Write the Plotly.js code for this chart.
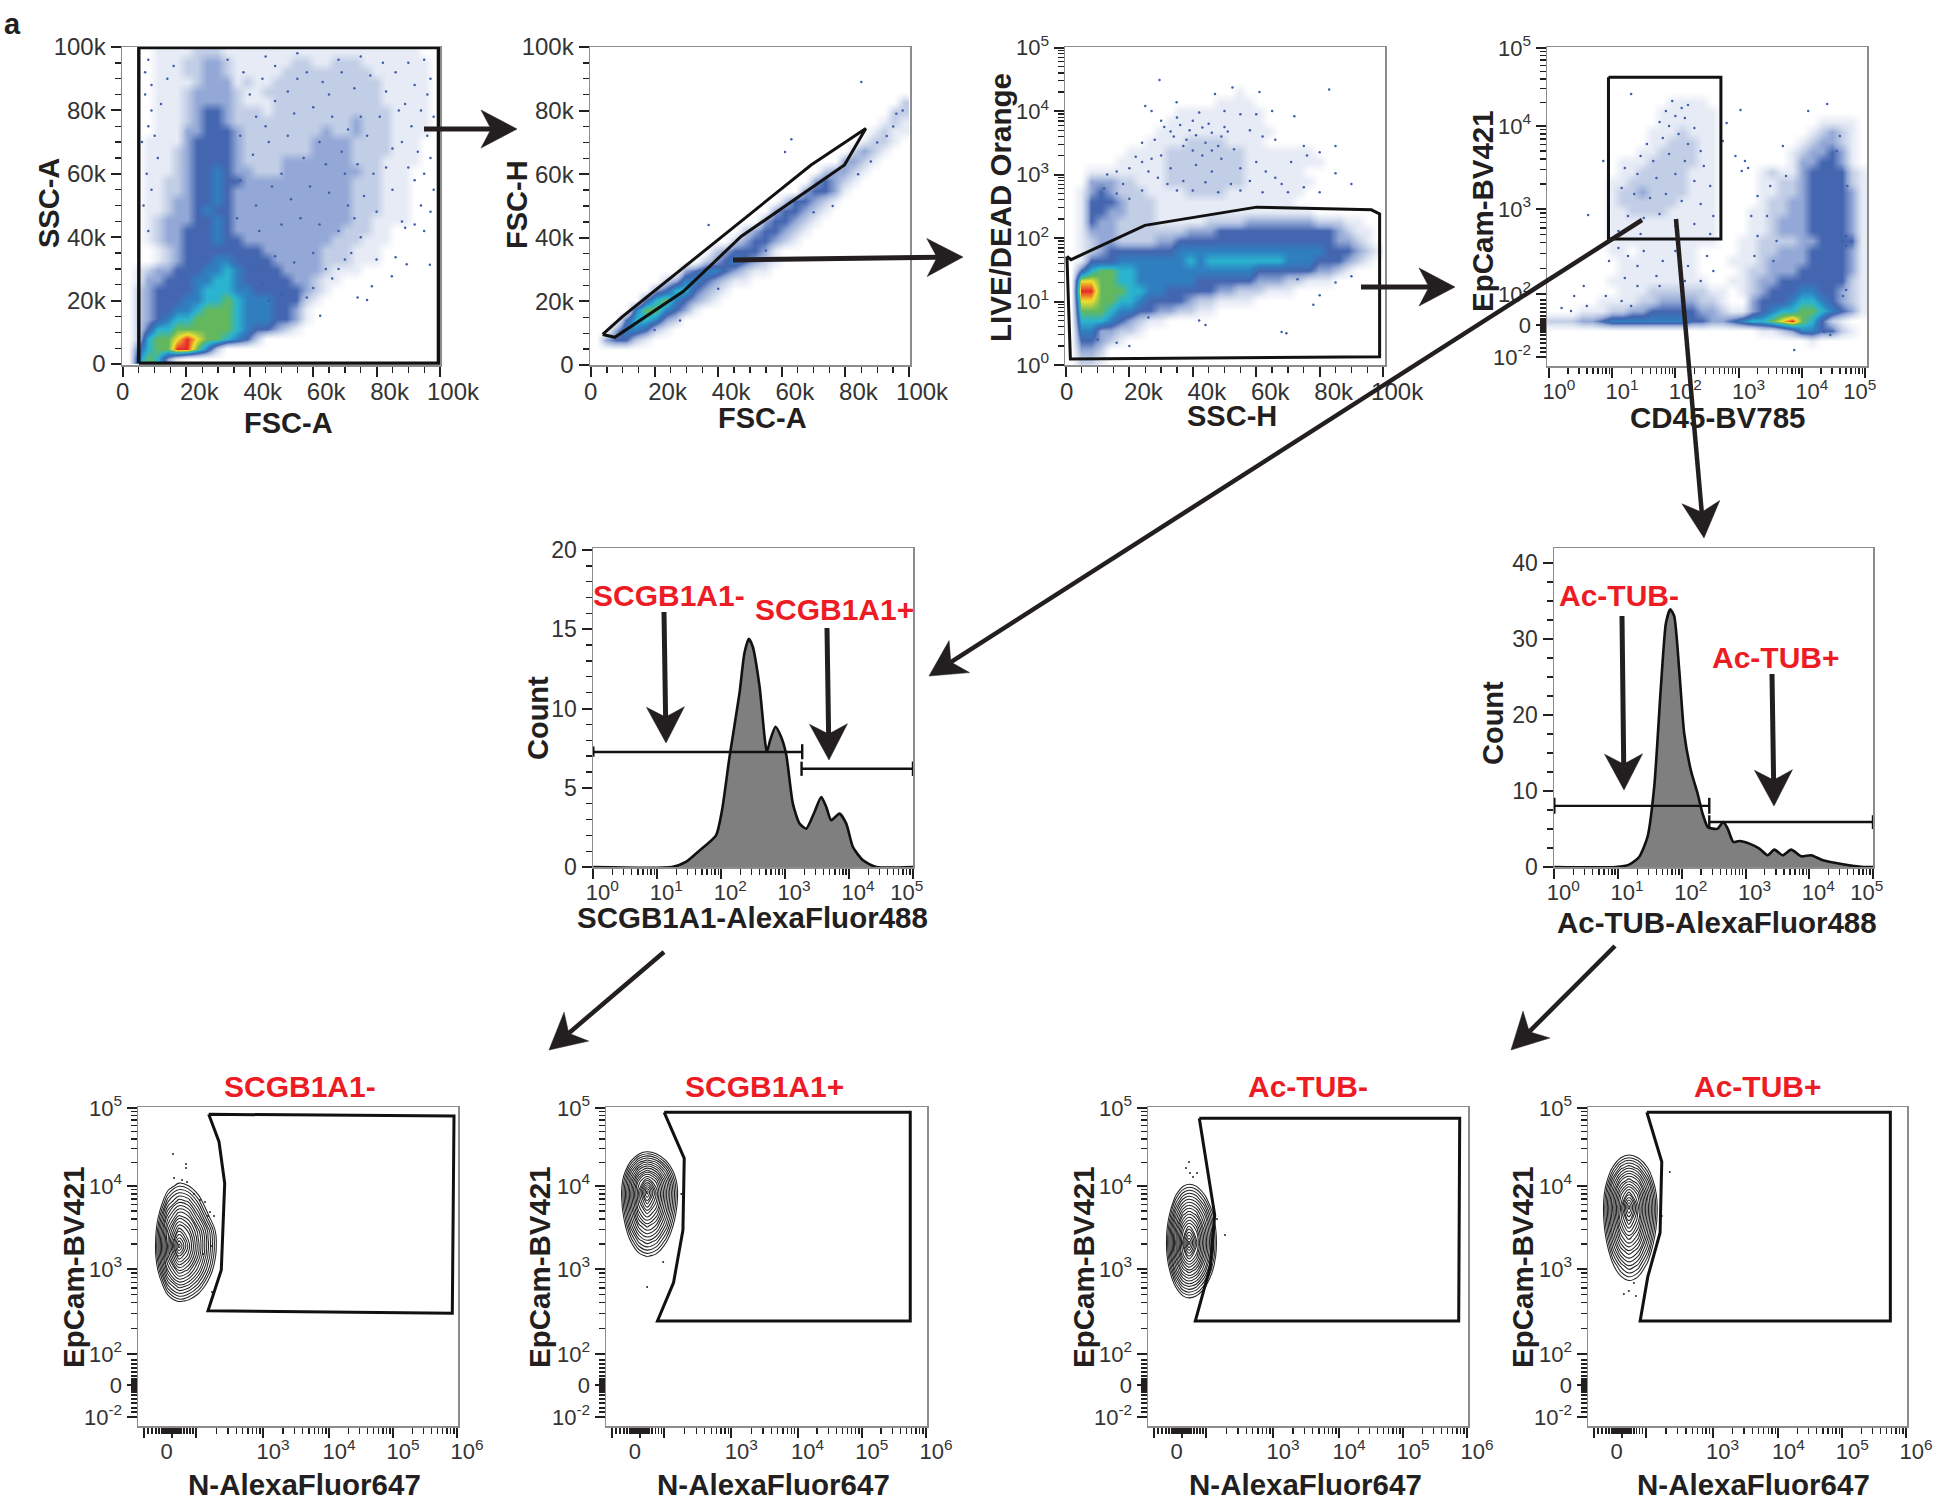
<!DOCTYPE html>
<html><head><meta charset="utf-8">
<script src="https://cdn.plot.ly/plotly-3.0.1.min.js"></script>
<style>html,body{margin:0;padding:0;background:#fff}</style></head>
<body><div id="chart" style="width:1939px;height:1502px"></div>
<script>
// ---------- density grids: levels 0 (none) .. 9 (red), rows from top ----------
const ssc_fsc_density = [
"00011112221111111111111111111100","00011122332111111221122211111110","00011122332111112222222221111110",
"00011112333121122222222222111110","00011123333211222222222222111110","00011123333211122222222222111110",
"00011123443222122222222222211110","00011123443222222222222322211110","00011133444322222222322322211110",
"00111134444322222223333222211100","00111234444322222223333222211100","00111234444322223333333222111100",
"00111234454332223333333322111000","00112234454433333333333222111000","00112234454333333333333222111000",
"00112334454333333333333222111000","00112334544333333333333222111000","00123334454333333333333221111000",
"00123344454333333333332221100000","00123344454433333333322211100000","00012344444444333333222111000000",
"00012344455444433333222111000000","01233444556544443333211100000000","01334445566544444332110000000000",
"02344445666554444432100000000000","02344455667655544421000000000000","02344556777655544310000000000000",
"02345667777655544310000000000000","02466777777654432100000000000000","02677898776542000000000000000000",
"04677997520000000000000000000000","05763100000000000000000000000000"];
// FSC-H / FSC-A band: first filled column of each row, then its levels
const fsch_start = [0,0,0,0,0,31,30,29,28,27,26,25,23,22,21,19,18,17,15,14,12,11,9,7,6,5,4,3,2,1,0,0];
const fsch_levels = ["","","","","","2","22","121","1211","1221","2321","3321","23321","34321","34431",
"244321","344321","344321","2344321","2344321","2344431","23454321","345543211","2355432110","3466432100",
"4675432100","5775431000","4665320000","3554210000","3442100000","","" ];
const dead_ssc_density = [
"00000000000000000000000000000000","00000000000000000000000000000000","00000000000000000000000000000000",
"00000000000000000000000000000000","00000000000000000100000000000000","00000000000000011110000000000000",
"00000000000111111111000000000000","00000000001111111111000000000000","00000000011111111111100000000000",
"00000000111122221111000000000000","00000011112222222211111110000000","00000111112222222211111111000000",
"00111111112222222211111100000000","00333221112222222211111110000000","01343222111122221111111100000000",
"01444322211111111111111000000000","01443322211111111111111110000000","01433222211111222233333332221100",
"01333222222233344444444444432110","01233222233444444444444444433210","01234444444555555555555555444321",
"01444555555565666666665554443210","04677665555555555554444443321000","08877665555554444443332211100000",
"09977766554444433222111000000000","08877665444432211110000000000000","07776554433221100000000000000000",
"06665432110000000000000000000000","05533221000000000000000000000000","04432100000000000000000000000000",
"03320000000000000000000000000000","02210000000000000000000000000000"];
const epcam_cd45_density = [
"00000000000000000000000000000000","00000000000000000000000000000000","00000000000000000000000000000000",
"00000000000000000000000000000000","00000000000000000000000000000000","00000000000011110000000000000000",
"00000000000111111000000000000000","00000000000111111000000000011110","00000000001112111000000000123210",
"00000000001122211000000001233210","00000000011222211000000012334310","00000001112222211000000013344310",
"00000001122222111000012113444421","00000011222222111000011223444421","00000012232222111000011223444431",
"00000012222221111000012233444431","00000011222211111000112233444431","00000011111111111000112333444431",
"00000011111111111000112333444431","00000011111111111001122223344441","00000011011111100001122333444431",
"00000001111111100011123333444431","00000001111111100001223334444431","00000011111111110011233444444421",
"00000001112222221101234445544321","00000111122333322100344456654321","00011122334444433211345667765431",
"22233455555555443345667897642100","00000000000000000000011235544210","00000000000000000000000000100000",
"00000000000000000000000000000000","00000000000000000000000000000000"];

// ---------- individual events (sparse regions) ----------
const ssc_fsc_points = [[96.8,31.3],[84.8,27.7],[78.5,24.5],[74,21],[77,20.2],[62.2,15.2],[70,33],[72,35],[80,33],[86,33.7],[89.5,31.5],[95,42],[92,44],[89,43],[88,45],[97,48],[94,50],[98,55],[92,58],[95,60],[97,65],[90,62],[93,67],[88,70],[96,72],[91,75],[98,78],[94,80],[89,82],[96,85],[92,88],[97,90],[86,92],[82,95],[90,95],[95,96],[75,97],[68,96],[55,98],[45,97],[8,96],[7,92],[9,88],[7,85],[9,80],[8,75],[6,70],[10,72],[7.5,60],[6.5,50],[12,82],[14,90],[16,94],[11,65],[9,55],[8,42],[66,27],[60,24],[58,21],[68,30],[75,40],[80,48],[85,55],[70,60],[62,70],[50,60],[45,75],[40,85],[55,90],[65,85],[75,78],[85,68],
[33,96],[38,92],[44,90],[48,94],[52,86],[58,92],[63,89],[69,92],[73,87],[78,91],[83,86],[87,80],[81,78],[77,72],[71,74],[66,78],[60,81],[54,79],[48,83],[42,78],[37,72],[41,66],[46,70],[52,72],[57,65],[64,63],[69,67],[74,63],[79,60],[83,62],[76,53],[71,50],[65,54],[59,56],[53,52],[47,56],[42,50],[37,58],[36,46],[43,42],[50,44],[56,46],[62,44],[68,42],[73,46],[60,35],[54,32],[48,34],[42,30],[64,30],[50,22],[46,20],[44,25]];
const fsch_points = [[85,89],[63,71],[61,67],[37,44],[96,79],[98,80],[95,75],[93,72],[90,70],[88,64],[84,60],[76,50],[70,48],[55,36],[40,24],[28,14],[20,11]];
const dead_points = [[29.5,4.49],[52.5,4.37],[83,4.34],[61,4.3],[47,4.27],[34.9,4.14],[25,4.08],[27,4],[42,3.98],[50,4],[55,3.95],[60,3.95],[65,4],[35,3.9],[30,3.85],[40,3.85],[45,3.8],[50,3.75],[72,3.92],[58,3.7],[62,3.6],[34,3.6],[38,3.55],[44,3.5],[48,3.45],[53,3.4],[28,3.55],[24,3.5],[66,3.55],[75,3.45],[80,3.35],[85,3.45],[71,3.2],[85,3.02],[90,2.85],[76,3.3],[60,3.2],[55,3.1],[63,3.05],[20,3.1],[16,3.05],[13,3],[33,3.1],[41,3.15],[46,3.05],[37,2.9],[52,2.85],[68,2.85],[68,0.52],[69.5,0.5],[44,0.63],[78,0.95],[80,1.1],[16,0.35],[20,0.3],[42,0.7],[26,0.75],[10,0.4],[12,0.1],[90,1.4],[85,1.3],[73,1.35],
[31,3.75],[33,3.68],[36,3.78],[39,3.7],[41,3.62],[43,3.74],[46,3.66],[49,3.6],[51,3.68],[37,3.45],[40,3.38],[43,3.3],[46,3.38],[49,3.25],[30,3.3],[27,3.25],[24,3.2],[22,3.28],[26,3.05],[29,2.95],[32,2.85],[35,2.75],[40,2.75],[44,2.88],[48,2.72],[55,2.75],[58,2.9],[62,2.72],[66,2.95],[70,2.72],[75,2.8],[80,2.72],[12,2.78],[16,2.7],[20,2.62],[24,2.75],[18,2.85]];
const epcam_points = [[1.3,272],[3.03,256],[1.9,240],[2.2,261],[2.81,243],[2.75,225],[2.95,210],[3.1,205],[3.05,195],[3.15,198],[0.86,205],[0.62,151],[1.1,118],[0.95,105],[1.25,110],[1.5,115],[1.8,105],[2,115],[2.2,100],[2.5,110],[2.6,95],[2.4,85],[1.7,90],[1.4,100],[1.2,88],[1.4,80],[1.75,80],[2.15,85],[0.55,80],[0.4,70],[0.6,60],[0.9,70],[1.15,65],[1.3,60],[0.2,58],[0.35,55],[3.88,16],[4.45,31],[4.35,34],[4.7,76],[4.65,70],[4.7,120],[4.65,125],[4.7,130],[4.72,180],[4.6,230],[4.55,215],[4.4,262],[4.1,255],
[1.95,265],[2.1,258],[2.0,250],[1.85,255],[2.15,248],[1.75,244],[2.3,238],[2.05,232],[1.8,228],[1.55,222],[2.2,222],[2.4,215],[1.45,210],[1.65,205],[1.9,212],[2.15,205],[2.45,200],[1.2,198],[1.4,192],[1.7,188],[2.0,192],[2.3,185],[2.55,180],[1.15,178],[1.35,172],[1.6,168],[1.85,172],[2.1,165],[2.4,162],[2.6,150],[1.25,150],[1.5,148],[1.75,152],[2.0,140],[2.3,142],[1.1,135],[1.45,132],[2.55,132],[3.3,170],[3.5,180],[3.2,150],[3.45,150],[3.3,130],[3.6,125],[3.25,110],[3.55,105],[3.75,190],[3.7,220]];

// ---------- gates ----------
const gate1 = {x:[5,99.5,99.5,5,5], y:[0.3,0.3,99.8,99.8,0.3]};
const gate2 = {x:[3.7,9.9,69.2,86.4,79.7,47.2,29,7.5,3.7], y:[9.6,15.2,62.9,74.4,62.9,40.4,23.1,8.7,9.6]};
const gate3 = {x:[0.3,1.6,24.9,60.1,96.3,98.9,98.9,1.4,0.3], y:[1.712,1.66,2.2,2.487,2.445,2.38,0.131,0.094,1.712]};
const gate4 = {x:[0.942,2.72,2.72,0.942,0.942], y:[288.7,288.7,127,127,288.7]};

// ---------- histograms ----------
const scgb_x = [1,17,28,46,83,103,135,193,231,270,312,398,517,583,708,867,1040,1320,1680,2140,2880,3670,4400,5250,7080,9040,11500,16500,26700,100000];
const scgb_y = [0,0,0.32,1.05,2,3.58,6.95,10.95,13.5,14.4,13.9,11.4,7.26,8,8.85,8.2,7.1,4,2.74,2.42,3.47,4.42,3.79,2.95,3.37,2.74,1.26,0.42,0,0];
const actub_x = [1,9.2,14.9,21.4,29,36.9,47,56.4,65.9,76,91,109,139,177,212,255,305,366,449,525,644,801,1150,1650,2230,2840,3850,5200,7460,10700,16400,33700,69700,100000];
const actub_y = [0,0,0.31,1.32,3.96,10.5,23.7,32.1,33.9,33,26,17.6,12.7,9.67,7.03,5.27,5.05,5.05,5.93,5.05,3.3,3.43,3.08,2.42,1.54,2.29,1.54,2.29,1.41,1.54,0.88,0.35,0,0];
const scgb_gates = {x:[1,1850,null,1850,1850,null,1,1,null,1807,100000,null,1807,1807,null,100000,100000], y:[7.26,7.26,null,6.8,7.75,null,6.95,7.6,null,6.2,6.2,null,5.75,6.65,null,5.75,6.65]};
const actub_gates = {x:[1,270,null,270,270,null,1,1,null,270,100000,null,270,270,null,100000,100000], y:[8.04,8.04,null,7,9.1,null,7,9.1,null,5.93,5.93,null,5,6.8,null,5,6.8]};

// ---------- contour densities (channel scale), bottom row ----------
const scgbNeg_cx=[10,20,30,41,50,60,70,80,90], scgbNeg_cy=[110,125,140,155,170,180,195,210,225,240,255];
const scgbNeg_z=[[-15.6,-10.2,-6.2,-4.6,-5,-6.5,-8.9,-12,-15.6],[-12.2,-6,-1.4,.7,.1,-1.7,-4.9,-8.2,-12.2],[-9.4,-2.5,3.2,6,5.2,2.8,-.7,-5,-9.4],[-7.2,.4,7.3,11.2,10,6.7,2.4,-2.3,-7.2],[-6,2.2,10.2,16.5,14.1,9.4,4.3,-.8,-6],[-5.8,2.5,10.8,20,15.3,10,4.7,-.5,-5.8],[-6.2,1.9,9.7,15.3,13.3,9,4.2,-1,-6.2],[-7.4,.1,6.9,10.6,9.5,5.5,.8,-3.2,-7.4],[-9.4,-2.5,3.2,5.9,5.2,2,-2,-5.5,-9.4],[-11.8,-5.6,-.8,1.3,.6,-1.6,-4.5,-7.6,-11.8],[-15,-9.2,-5.2,-3.4,-3.9,-5.4,-7.8,-11,-15]];
const scgbPos_cx=[5,15,25,33,41,50,60,70,80], scgbPos_cy=[155,170,185,200,215,225,234,245,255,265,280,290];
const scgbPos_z=[[-16.4,-11.2,-6.9,-4.7,-3.9,-4.6,-6.9,-10.2,-14.8],[-13.8,-7.9,-3,-.4,.6,-.2,-2.9,-6.9,-11.8],[-11.4,-4.9,.7,3.9,5.2,4.1,.8,-3.9,-9.2],[-9.5,-2.5,4,8,9.7,8.2,4,-1.3,-7.2],[-8.3,-.8,6.4,11.6,14.2,11.8,6.5,.4,-5.8],[-7.8,-.2,7.4,13.3,17.3,13.6,7.4,1.1,-5.4],[-7.7,0,7.7,13.8,20,14.2,7.7,1.3,-5.2],[-8.2,-.7,6.6,11.8,14.6,12.1,6.6,.5,-5.7],[-9.5,-2.4,4,8,9.8,8.2,4,-1.3,-7.2],[-11.6,-5,.5,3.7,4.9,3.8,.5,-4,-9.2],[-15.6,-10,-5.6,-3.3,-2.4,-3.2,-5.5,-9.2,-13.8],[-19,-13.8,-10,-8,-7.3,-8,-10,-13.1,-17]];
const tubNeg_cx=[8,18,28,35,41,48,56,64,74], tubNeg_cy=[115,127,140,155,170,183,197,212,227,243,258];
const tubNeg_z=[[-17.2,-11.4,-6.8,-4.8,-4.3,-4.8,-6.5,-9.4,-13.8],[-15,-8.3,-3,-.7,0,-.6,-2.7,-5.8,-11],[-12.6,-5.2,.9,3.8,4.6,3.8,1.3,-2.4,-8.2],[-10.4,-2.4,4.9,8.7,10,8.8,5.3,.8,-5.6],[-9.1,-.5,7.8,13,15.4,13.2,8.3,3,-4],[-8.7,0,8.7,14.8,20,15,9.3,3.6,-3.6],[-9.1,-.5,7.8,13,15.3,13.2,8.3,3,-4],[-10.3,-2.2,5.1,9,10.3,9.1,5.6,1,-5.5],[-12.2,-4.8,1.5,4.4,5.3,4.5,1.8,-2,-7.8],[-15,-8.3,-3,-.7,0,-.6,-2.7,-5.8,-11],[-18,-12,-7.4,-5.5,-5,-5.5,-7.2,-10,-14.4]];
const tubPos_cx=[5,15,25,33,41,50,60,70,80], tubPos_cy=[130,144,160,175,190,205,219,232,245,258,272,285];
const tubPos_z=[[-16.4,-11,-6.6,-4.5,-3.7,-4.5,-7.1,-11,-15.8],[-14.2,-8.3,-3.5,-.9,0,-.9,-3.9,-8.3,-13.5],[-11.8,-5.4,0,2.7,4.3,3.1,-.4,-5.4,-11.2],[-10,-3.2,3,6.7,8.3,6.7,2.4,-3.2,-9.3],[-8.8,-1.4,5.5,10.1,12.3,10.1,4.8,-1.4,-8],[-8,-.3,7.1,12.8,16.3,12.8,6.4,-.3,-7.2],[-7.7,0,7.7,13.8,20,13.8,6.9,0,-6.9],[-8.1,-.6,6.8,12.1,15.1,12.1,6,-.6,-7.3],[-9.4,-2.3,4.3,8.4,10.2,8.4,3.6,-2.3,-8.6],[-11.4,-4.8,.8,4,5.3,4,.4,-4.8,-10.6],[-14.2,-8.3,-3.5,-.9,0,-.9,-3.9,-8.3,-13.5],[-17.4,-12,-7.7,-5.6,-4.9,-5.6,-8.2,-12,-16.6]];

// gates on bottom row (channel scale)
const gateA={x:[70.7,316,314.3,70,83.3,86.7,81,70.7],y:[311.7,310,112.7,115.3,156,242.7,284.3,311.7]};
const gateB={x:[58,303.3,303.3,51.3,67.3,76.7,78,58],y:[313.7,313.7,105,105,143.3,196,267.7,313.7]};
const gateC={x:[51.3,311.7,310.7,47.3,62.3,66.7,51.3],y:[307.7,307.7,105,105,159.3,211,307.7]};
const gateD={x:[59,303.3,303.3,52.3,60,72.3,74,59],y:[313.7,313.7,105,105,149.3,193.3,264.3,313.7]};
const dotsA={x:[35,48,48,36,44,49,56,62,67,72,70,76,74,84,74,65],y:[272,262,258,248,246,244,232,226,224,214,210,210,180,266,134,172]};
const dotsB={x:[57,41,75],y:[164,139,232]};
const dotsC={x:[41,38,42,49,45,77,69],y:[264,258,253,253,249,191,207]};
const dotsD={x:[82,36,41,48,46,74],y:[254,132,135,130,143,210]};

// ---------- tick labels ----------
const kVals=[0,20,40,60,80,100], kTextY=['0','20k','40k','60k','80k','100k'];
const kTextP=['0\u00a0\u00a0\u00a0\u00a0','20k','40k','60k','80k','100k'];
const decVals=[0,1,2,3,4,5];
const decText=['10<sup>0</sup>','10<sup>1</sup>','10<sup>2</sup>','10<sup>3</sup>','10<sup>4</sup>','10<sup>5</sup>'];
const decTextX=['10<sup>0</sup>','10<sup>1</sup>','10<sup>2</sup>','10<sup>3</sup>','10<sup>4</sup>','10<sup>5</sup>\u00a0\u00a0\u00a0\u00a0\u00a0'];
const chY=[9,41,72,157,240,318];
const chYText=['10<sup>-2</sup>','0','10<sup>2</sup>','10<sup>3</sup>','10<sup>4</sup>','10<sup>5</sup>'];
const chX=[6,34,58,125,191,255,319];
const chXText=['','0\u00a0\u00a0\u00a0\u00a0\u00a0','','10<sup>3</sup>','10<sup>4</sup>','10<sup>5</sup>','10<sup>6</sup>'];
const chYNearZero=[66,62,58,54,50,47,46,45,44,43,42,40,39,38,37,36,34,31,27,23,18,14];
const chXNearZero=[10,14,18,21,24,26,28,29,30,31,32,33,35,36,37,38,39,41,43,46,49,52,55];

// ---------- page geometry (pixels) ----------
const W=1939,H=1502,INK='#231f20',RED='#ed1c24',DOT='#3d5ea8';
const dom=(a,b,s)=>s?[1-b/H,1-a/H]:[a/W,b/W];
const logK=[2,3,4,5,6,7,8,9].map(Math.log10);
const logMinor=(lo,hi)=>logK.map(k=>lo+(hi-lo)*k);
const decMinor=[0,1,2,3,4].flatMap(d=>logMinor(d,d+1));
const histMinor=[0,1,2,3,4].flatMap(d=>[2,3,4,5,6,7,8,9].map(k=>k*10**d));
const chYMinor=[...logMinor(72,157),...logMinor(157,240),...logMinor(240,318),...chYNearZero];
const chXMinor=[...chXNearZero,...logMinor(58,125),...logMinor(125,191),...logMinor(191,255),...logMinor(255,319)];
const SUPFONT={size:22,color:'#333'};

const layout={width:W,height:H,margin:{l:0,r:0,t:0,b:0},paper_bgcolor:'#fff',plot_bgcolor:'#fff',showlegend:false,
  font:{family:'"Liberation Sans",Arial,sans-serif',color:INK},annotations:[],shapes:[]};
const traces=[];
let n=0;
function axis(box,vertical,o){
  const a=Object.assign({domain:dom(vertical?box[2]:box[0],vertical?box[3]:box[1],vertical),showgrid:false,zeroline:false,
    showline:true,mirror:true,linecolor:'#8c8c8c',linewidth:1.5,ticks:'outside',ticklen:10,tickwidth:2,tickcolor:INK,
    tickfont:{size:24,color:'#333'},tickmode:'array',fixedrange:true,layer:'above traces',automargin:false},o);
  if(!vertical) a.ticklabelstandoff=-5;
  return a;
}
function minorArr(v,len){return {ticks:'outside',tickmode:'array',tickvals:v,ticklen:len||6,tickwidth:1.3,tickcolor:INK,showgrid:false};}
function panel(box,xo,yo){
  n++;const s=n===1?'':n;
  layout['xaxis'+s]=axis(box,false,Object.assign({anchor:'y'+s},xo));
  layout['yaxis'+s]=axis(box,true,Object.assign({anchor:'x'+s},yo));
  return {xaxis:'x'+s,yaxis:'y'+s};
}
const densityScale=[[0,'#ffffff'],[1/9,'#e6ebf5'],[2/9,'#c2cee6'],[3/9,'#93a8d6'],[4/9,'#4466b0'],[5/9,'#2f7fc0'],[6/9,'#2ab4d0'],[7/9,'#63b85e'],[8/9,'#f2e02c'],[1,'#e8292a']];
function density(ax,rows,xr,yr){
  const nr=rows.length,nc=32;
  const z=rows.map(r=>[...r.padEnd(nc,'0')].map(Number));
  const x=Array.from({length:nc},(_,c)=>xr[0]+(c+.5)*(xr[1]-xr[0])/nc);
  const y=rows.map((_,r)=>yr[1]-(r+.5)*(yr[1]-yr[0])/nr);
  traces.push(Object.assign({type:'heatmap',x,y,z,zmin:0,zmax:9,zsmooth:'best',colorscale:densityScale,showscale:false,hoverinfo:'skip'},ax));
}
function points(ax,pts,size,color){
  traces.push(Object.assign({type:'scatter',mode:'markers',x:pts.map(p=>p[0]),y:pts.map(p=>p[1]),marker:{size:size||2.5,color:color||DOT},hoverinfo:'skip'},ax));
}
function gate(ax,g,w){
  traces.push(Object.assign({type:'scatter',mode:'lines',x:g.x,y:g.y,line:{color:'#111',width:w||3},hoverinfo:'skip'},ax));
}
function text(t,x,y,size,color,rot){
  layout.annotations.push({text:'<b>'+t+'</b>',x:x/W,y:1-y/H,xref:'paper',yref:'paper',showarrow:false,xanchor:'center',yanchor:'middle',
    font:{size:size||29.5,color:color||INK,family:'"Liberation Sans",Arial,sans-serif'},textangle:rot||0});
}
function arrow(x0,y0,x1,y1,w,L,hw){
  L=L||36;hw=hw||19;w=w||5;
  const d=Math.hypot(x1-x0,y1-y0),ux=(x1-x0)/d,uy=(y1-y0)/d,nx=-uy,ny=ux;
  const P=(x,y)=>(x/W).toFixed(5)+','+(1-y/H).toFixed(5);
  const bx=x1-L*ux,by=y1-L*uy,mx=x1-.72*L*ux,my=y1-.72*L*uy;
  layout.shapes.push({type:'line',xref:'paper',yref:'paper',x0:x0/W,y0:1-y0/H,x1:mx/W,y1:1-my/H,line:{color:INK,width:w},layer:'above'});
  layout.shapes.push({type:'path',xref:'paper',yref:'paper',layer:'above',fillcolor:INK,line:{color:INK,width:.5},
    path:'M'+P(x1,y1)+'L'+P(bx+hw*nx,by+hw*ny)+'L'+P(mx,my)+'L'+P(bx-hw*nx,by-hw*ny)+'Z'});
}
const kMinor={ticks:'outside',dtick:5,ticklen:6,tickwidth:1.3,tickcolor:INK};

// Panel 1
let ax=panel([122,440,47,365],
  {range:[-.3,100],tickvals:kVals,ticktext:kTextP,ticklabelshift:13,minor:kMinor},
  {range:[-.3,100],tickvals:kVals,ticktext:kTextY,minor:kMinor});
density(ax,ssc_fsc_density,[0,100],[0,100]);points(ax,ssc_fsc_points);gate(ax,gate1,3.4);
text('SSC-A',49,203,29,INK,-90);text('FSC-A',288,423,29);
// Panel 2
ax=panel([590,910,47,365],
  {range:[-.3,100.3],tickvals:kVals,ticktext:kTextP,ticklabelshift:13,minor:kMinor},
  {range:[0,100],tickvals:kVals,ticktext:kTextY,minor:kMinor});
density(ax,fsch_levels.map((s,i)=>'0'.repeat(fsch_start[i])+s),[0,100],[0,100]);points(ax,fsch_points);gate(ax,gate2);
text('FSC-H',517,205,29,INK,-90);text('FSC-A',762,418,29);
// Panel 3
ax=panel([1065,1385,47,365],
  {range:[-.3,100.6],tickvals:kVals,ticktext:kTextP,ticklabelshift:14,minor:kMinor},
  {range:[0,5.01],tickvals:decVals,ticktext:decText,tickfont:SUPFONT,minor:minorArr(decMinor)});
density(ax,dead_ssc_density,[0,100],[0,5]);points(ax,dead_points);gate(ax,gate3);
text('LIVE/DEAD Orange',1000,207,29.5,INK,-90);text('SSC-H',1232,416,29);
// Panel 4
ax=panel([1547,1867,47,366],
  {range:[-.03,5.03],tickvals:decVals,ticktext:decTextX,tickfont:SUPFONT,ticklabelshift:10,minor:minorArr(decMinor)},
  {range:[0,319],tickvals:chY,ticktext:chYText,tickfont:SUPFONT,minor:minorArr(chYMinor)});
density(ax,epcam_cd45_density,[-.03,5.03],[0,319]);points(ax,epcam_points);gate(ax,gate4);
text('EpCam-BV421',1483,211,29.5,INK,-90);text('CD45-BV785',1717,418,29.5);
// Histograms
function hist(box,xs,ys,g,yr,dt,mn){
  const a=panel(box,
    {type:'log',range:[-.005,5],tickvals:[1,10,100,1000,10000,100000],ticktext:decTextX,tickfont:SUPFONT,ticklabelshift:9,minor:minorArr(histMinor)},
    {range:[0,yr],tickvals:dt,ticktext:dt.map(String),tickfont:{size:23,color:'#333'},minor:{ticks:'outside',dtick:mn,ticklen:6,tickwidth:1.3,tickcolor:INK}});
  traces.push(Object.assign({type:'scatter',mode:'lines',x:xs,y:ys,fill:'tozeroy',fillcolor:'#7f7f80',line:{color:'#111',width:2.6,shape:'spline',smoothing:.6},hoverinfo:'skip'},a));
  traces.push(Object.assign({type:'scatter',mode:'lines',x:g.x,y:g.y,line:{color:'#111',width:2.4},hoverinfo:'skip'},a));
}
hist([593,913,548,867],scgb_x,scgb_y,scgb_gates,20.13,[0,5,10,15,20],1);
text('Count',538,718,29,INK,-90);text('SCGB1A1-AlexaFluor488',752,917);
text('SCGB1A1-',669,595,30,RED);text('SCGB1A1+',834,609,30,RED);
hist([1554,1873,548,867],actub_x,actub_y,actub_gates,41.97,[0,10,20,30,40],2.5);
text('Count',1493,723,29,INK,-90);text('Ac-TUB-AlexaFluor488',1717,922);
text('Ac-TUB-',1619,596,30,RED);text('Ac-TUB+',1776,657,30,RED);
// Bottom row
function contourPanel(box,cx,cy,z,g,dots,title,tx,ylx,nx){
  const a=panel(box,
    {range:[0,320],tickvals:chX,ticktext:chXText,tickfont:SUPFONT,ticklabelshift:10,minor:minorArr(chXMinor)},
    {range:[0,319],tickvals:chY,ticktext:chYText,tickfont:SUPFONT,minor:minorArr(chYMinor)});
  traces.push(Object.assign({type:'contour',x:cx,y:cy,z,autocontour:false,contours:{coloring:'lines',start:.4,end:19.6,size:1},
    line:{width:1.05,smoothing:1.2},colorscale:[[0,'#222'],[1,'#222']],showscale:false,hoverinfo:'skip'},a));
  points(a,dots.x.map((v,i)=>[v,dots.y[i]]),2,'#222');
  gate(a,g);
  text(title,tx,1086,30,RED);text('EpCam-BV421',ylx,1267,29.5,INK,-90);text('N-AlexaFluor647',nx,1484);
}
contourPanel([138,458,1107,1426],scgbNeg_cx,scgbNeg_cy,scgbNeg_z,gateA,dotsA,'SCGB1A1-',300,73,304);
contourPanel([606,927,1107,1426],scgbPos_cx,scgbPos_cy,scgbPos_z,gateB,dotsB,'SCGB1A1+',764,539,773);
contourPanel([1148,1468,1107,1426],tubNeg_cx,tubNeg_cy,tubNeg_z,gateC,dotsC,'Ac-TUB-',1308,1083,1305);
contourPanel([1588,1907,1107,1426],tubPos_cx,tubPos_cy,tubPos_z,gateD,dotsD,'Ac-TUB+',1758,1522,1753);
text('a',12,24,29);
// Flow arrows
arrow(424,129,517,129);arrow(733,260,963,257);arrow(1361,287,1455,287);
arrow(1642,220,929,676,4.5);arrow(1676,219,1704,538,4.5);
arrow(664,612,666,743);arrow(827,628,829,760);arrow(1622,616,1624,790);arrow(1772,674,1774,806);
arrow(664,952,549,1050,4.5);arrow(1615,946,1511,1050,4.5);

Plotly.newPlot('chart',traces,layout,{staticPlot:true,displayModeBar:false});
</script></body></html>
